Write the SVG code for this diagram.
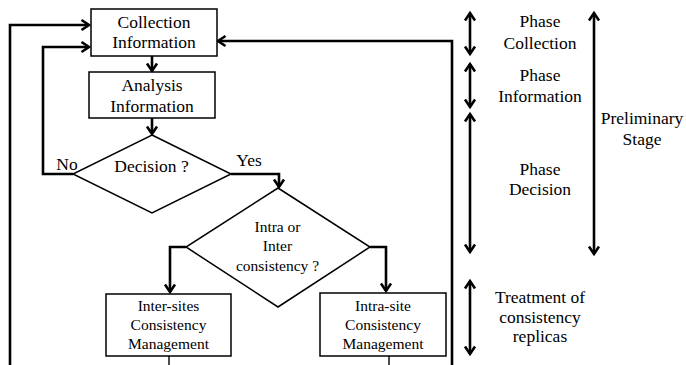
<svg xmlns="http://www.w3.org/2000/svg" width="686" height="365" viewBox="0 0 686 365">
<defs>
<marker id="ah" markerUnits="userSpaceOnUse" markerWidth="14" markerHeight="14" viewBox="-10 -7 12 14" refX="0" refY="0" orient="auto-start-reverse">
<path d="M-7.5,-5 L0,0 L-7.5,5" fill="none" stroke="#000" stroke-width="2.6"/>
</marker>
</defs>
<g id="connectors" fill="none" stroke="#000" stroke-width="2.6">
<polyline marker-end="url(#ah)" points="10,365 10,25 89,25"/>
<polyline marker-end="url(#ah)" points="73,174 43,174 43,47 89,47"/>
<polyline marker-end="url(#ah)" points="452,365 452,41 218,41"/>
<line marker-end="url(#ah)" x1="152" y1="56" x2="152" y2="71"/>
<line marker-end="url(#ah)" x1="152" y1="118" x2="152" y2="134"/>
<polyline marker-end="url(#ah)" points="231,174 279,174 279,187"/>
<polyline marker-end="url(#ah)" points="186,247 170,247 170,292"/>
<polyline marker-end="url(#ah)" points="370,247 386,247 386,291"/>
<line stroke-width="1.4" x1="169" y1="356" x2="169" y2="365"/>
<line stroke-width="1.4" x1="389" y1="356" x2="389" y2="365"/>
</g>
<g font-family="'Liberation Serif', serif" text-anchor="middle" fill="#000">
<g id="collection">
<rect fill="#fff" stroke="#000" stroke-width="1.5" x="91" y="9" width="126" height="47"/>
<text font-size="17.5" x="154" y="28">Collection</text>
<text font-size="17.5" x="154" y="48">Information</text>
</g>
<g id="analysis">
<rect fill="#fff" stroke="#000" stroke-width="1.5" x="89" y="72" width="126" height="46"/>
<text font-size="17.5" x="152" y="91">Analysis</text>
<text font-size="17.5" x="152" y="112">Information</text>
</g>
<g id="decision">
<polygon fill="#fff" stroke="#000" stroke-width="1.5" points="152,135 231,174 152,213 73,174"/>
<text font-size="17.5" x="151.5" y="172">Decision ?</text>
<text font-size="17.5" x="67" y="170">No</text>
<text font-size="17.5" x="249" y="166">Yes</text>
</g>
<g id="intra-inter">
<polygon fill="#fff" stroke="#000" stroke-width="1.5" points="278,188 370,247 278,307 186,247"/>
<text font-size="15.5" x="277.5" y="232">Intra or</text>
<text font-size="15.5" x="277.5" y="251">Inter</text>
<text font-size="15.5" x="277.5" y="271">consistency ?</text>
</g>
<g id="inter-sites">
<rect fill="#fff" stroke="#000" stroke-width="1.5" x="106" y="294" width="125" height="62"/>
<text font-size="15.5" x="168.5" y="311">Inter-sites</text>
<text font-size="15.5" x="168.5" y="330">Consistency</text>
<text font-size="15.5" x="168.5" y="349">Management</text>
</g>
<g id="intra-site">
<rect fill="#fff" stroke="#000" stroke-width="1.5" x="320" y="293" width="126" height="63"/>
<text font-size="15.5" x="383" y="311">Intra-site</text>
<text font-size="15.5" x="383" y="330">Consistency</text>
<text font-size="15.5" x="383" y="349">Management</text>
</g>
<g id="phases">
<g fill="none" stroke="#000" stroke-width="2.6" marker-start="url(#ah)" marker-end="url(#ah)">
<line x1="470" y1="13" x2="470" y2="54"/>
<line x1="470" y1="64" x2="470" y2="107"/>
<line x1="470" y1="114" x2="470" y2="252"/>
<line x1="470" y1="281" x2="470" y2="354"/>
<line x1="594" y1="13" x2="594" y2="254"/>
</g>
<text font-size="17.5" x="540" y="27">Phase</text>
<text font-size="17.5" x="540" y="49">Collection</text>
<text font-size="17.5" x="540" y="81">Phase</text>
<text font-size="17.5" x="540" y="102">Information</text>
<text font-size="17.5" x="540" y="175">Phase</text>
<text font-size="17.5" x="540" y="195">Decision</text>
<text font-size="17.5" x="540" y="303">Treatment of</text>
<text font-size="17.5" x="540" y="323">consistency</text>
<text font-size="17.5" x="540" y="342">replicas</text>
<text font-size="17.5" x="642" y="124">Preliminary</text>
<text font-size="17.5" x="642" y="145">Stage</text>
</g>
</g>
</svg>
